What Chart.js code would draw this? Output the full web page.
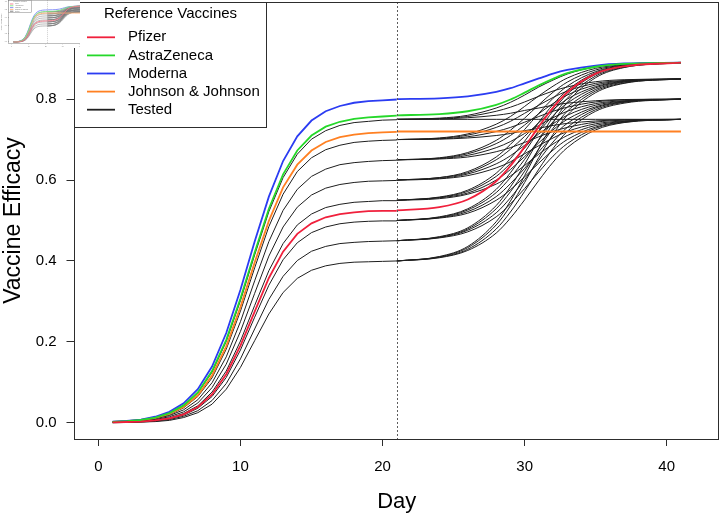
<!DOCTYPE html>
<html>
<head>
<meta charset="utf-8">
<script src="https://cdn.jsdelivr.net/npm/chart.js@4.4.1/dist/chart.umd.min.js"></script>
<style>
  html, body { margin: 0; padding: 0; background: #fff; }
  #wrap { position: relative; width: 720px; height: 513px; }
  #thumb { position: absolute; left: 0; top: 0; width: 80px; height: 48px; overflow: hidden; background: #fff; }
  #thumb canvas { opacity: 0.6; }
</style>
</head>
<body>
<div id="wrap">
  <canvas id="main" width="720" height="513"></canvas>
  <div id="thumb"><canvas id="mini" width="86" height="51"></canvas></div>
</div>
<script>
// ---- data -------------------------------------------------------------
// first dose: days 1..21, second dose: days 21..41 (sampled)
const days1 = [1,2,3,4,5,6,7,8,9,10,11,12,13,14,15,16,17,18,19,20,21];
const days2 = [21,24,26,28,29,30,31,32,33,35,37,41];
const doseDay = 21;

const dayTicks = [0, 10, 20, 30, 40];
const effTicks = [0, 0.2, 0.4, 0.6, 0.8, 1.0];

const pfizer1  = [0.001,0.002,0.003,0.006,0.011,0.021,0.039,0.070,0.120,0.191,0.275,0.358,0.423,0.467,0.493,0.508,0.516,0.520,0.523,0.524,0.524];
const astra1   = [0.002,0.004,0.007,0.013,0.024,0.043,0.075,0.128,0.205,0.307,0.421,0.529,0.614,0.673,0.710,0.732,0.744,0.751,0.755,0.757,0.759];
const moderna1 = [0.003,0.005,0.008,0.015,0.027,0.048,0.083,0.139,0.222,0.329,0.448,0.559,0.647,0.708,0.747,0.770,0.783,0.791,0.795,0.797,0.799];
const jj1      = [0.002,0.004,0.007,0.012,0.022,0.039,0.068,0.117,0.189,0.286,0.396,0.499,0.582,0.638,0.673,0.694,0.706,0.712,0.716,0.718,0.719];

const pfizer2  = [0.525,0.533,0.552,0.597,0.635,0.682,0.732,0.779,0.817,0.863,0.881,0.890];
const astra2   = [0.760,0.763,0.770,0.786,0.799,0.816,0.834,0.850,0.864,0.880,0.887,0.890];
const moderna2 = [0.800,0.802,0.807,0.818,0.827,0.839,0.851,0.863,0.872,0.883,0.888,0.890];
const jj2      = [0.720,0.720,0.720,0.720,0.720,0.720,0.720,0.720,0.720,0.720,0.720,0.720];

// tested candidates, first dose (plateaus 0.40 .. 0.75)
const tested1 = [
  [0.000,0.001,0.002,0.003,0.006,0.013,0.025,0.046,0.083,0.137,0.203,0.269,0.322,0.357,0.377,0.388,0.394,0.397,0.398,0.399,0.400],
  [0.001,0.001,0.002,0.004,0.008,0.016,0.030,0.055,0.097,0.158,0.232,0.305,0.362,0.401,0.424,0.436,0.443,0.446,0.448,0.449,0.450],
  [0.001,0.001,0.003,0.005,0.010,0.019,0.036,0.065,0.112,0.180,0.261,0.340,0.403,0.445,0.470,0.484,0.492,0.496,0.498,0.499,0.499],
  [0.001,0.002,0.004,0.007,0.012,0.023,0.042,0.076,0.128,0.202,0.290,0.376,0.443,0.489,0.516,0.532,0.540,0.545,0.547,0.549,0.549],
  [0.001,0.002,0.004,0.008,0.015,0.027,0.049,0.087,0.145,0.226,0.320,0.412,0.484,0.533,0.563,0.580,0.589,0.594,0.597,0.598,0.599],
  [0.002,0.003,0.005,0.010,0.018,0.032,0.057,0.099,0.163,0.250,0.351,0.448,0.525,0.577,0.609,0.627,0.638,0.643,0.646,0.648,0.649],
  [0.002,0.003,0.006,0.011,0.020,0.037,0.065,0.111,0.182,0.276,0.383,0.485,0.565,0.621,0.655,0.675,0.686,0.693,0.696,0.698,0.699],
  [0.002,0.004,0.007,0.013,0.024,0.042,0.074,0.125,0.201,0.302,0.415,0.522,0.606,0.664,0.701,0.722,0.735,0.742,0.745,0.748,0.749]
];

// tested candidates, second dose: each first-dose level to 0.75 / 0.80 / 0.85 / 0.89
const tested2 = [
  [0.400,0.408,0.426,0.469,0.506,0.551,0.599,0.644,0.680,0.724,0.742,0.750],
  [0.400,0.409,0.429,0.479,0.521,0.572,0.627,0.678,0.720,0.770,0.790,0.800],
  [0.400,0.410,0.433,0.489,0.536,0.594,0.656,0.713,0.760,0.816,0.839,0.850],
  [0.400,0.411,0.436,0.497,0.548,0.611,0.678,0.741,0.792,0.853,0.878,0.890],
  [0.450,0.457,0.472,0.509,0.541,0.579,0.620,0.659,0.690,0.728,0.743,0.750],
  [0.450,0.458,0.476,0.519,0.556,0.601,0.649,0.694,0.730,0.774,0.792,0.800],
  [0.450,0.459,0.479,0.529,0.571,0.622,0.677,0.728,0.770,0.820,0.840,0.850],
  [0.450,0.460,0.482,0.537,0.583,0.639,0.700,0.756,0.802,0.857,0.879,0.890],
  [0.500,0.506,0.518,0.550,0.576,0.608,0.642,0.674,0.700,0.731,0.744,0.750],
  [0.500,0.507,0.522,0.559,0.591,0.629,0.670,0.709,0.740,0.778,0.793,0.800],
  [0.500,0.508,0.526,0.569,0.606,0.651,0.699,0.744,0.780,0.824,0.842,0.850],
  [0.500,0.509,0.529,0.577,0.618,0.668,0.722,0.771,0.812,0.861,0.881,0.890],
  [0.550,0.554,0.565,0.590,0.610,0.636,0.664,0.689,0.710,0.735,0.745,0.750],
  [0.550,0.556,0.568,0.600,0.626,0.658,0.692,0.724,0.750,0.781,0.794,0.800],
  [0.550,0.557,0.572,0.609,0.641,0.679,0.720,0.759,0.790,0.828,0.843,0.850],
  [0.550,0.558,0.575,0.617,0.653,0.696,0.743,0.787,0.822,0.865,0.882,0.890],
  [0.600,0.603,0.611,0.630,0.645,0.665,0.685,0.704,0.720,0.739,0.746,0.750],
  [0.600,0.604,0.615,0.640,0.660,0.686,0.714,0.739,0.760,0.785,0.795,0.800],
  [0.600,0.606,0.618,0.650,0.676,0.708,0.742,0.774,0.800,0.831,0.844,0.850],
  [0.600,0.606,0.621,0.657,0.688,0.725,0.765,0.802,0.832,0.868,0.883,0.890],
  [0.650,0.652,0.657,0.670,0.680,0.693,0.707,0.720,0.730,0.743,0.748,0.750],
  [0.650,0.653,0.661,0.680,0.695,0.715,0.735,0.754,0.770,0.789,0.796,0.800],
  [0.650,0.654,0.665,0.690,0.710,0.736,0.764,0.789,0.810,0.835,0.845,0.850],
  [0.650,0.655,0.668,0.698,0.723,0.753,0.786,0.817,0.842,0.872,0.884,0.890],
  [0.700,0.701,0.704,0.710,0.715,0.722,0.728,0.735,0.740,0.746,0.749,0.750],
  [0.700,0.702,0.707,0.720,0.730,0.743,0.757,0.770,0.780,0.793,0.798,0.800],
  [0.700,0.703,0.711,0.730,0.745,0.765,0.785,0.804,0.820,0.839,0.846,0.850],
  [0.700,0.704,0.714,0.738,0.757,0.782,0.808,0.832,0.852,0.876,0.885,0.890],
  [0.750,0.750,0.750,0.750,0.750,0.750,0.750,0.750,0.750,0.750,0.750,0.750],
  [0.750,0.751,0.754,0.760,0.765,0.772,0.778,0.785,0.790,0.796,0.799,0.800],
  [0.750,0.752,0.757,0.770,0.780,0.793,0.807,0.820,0.830,0.843,0.848,0.850],
  [0.750,0.753,0.760,0.778,0.792,0.810,0.830,0.847,0.862,0.880,0.887,0.890]
];

const legendNames  = ['Pfizer', 'AstraZeneca', 'Moderna', 'Johnson & Johnson', 'Tested'];
const legendColors = ['#f0203c', '#25d82a', '#2b3cf2', '#ff8022', '#1e1e1e'];

// ---- drawing ----------------------------------------------------------
const family = "'Liberation Sans', Arial, Helvetica, sans-serif";
const ink = '#2d2d2d';

function toPoints(xs, ys) {
  return ys.map((y, i) => ({ x: xs[i], y: y }));
}

function makeDatasets(lw) {
  const sets = [];
  const refs = [
    [pfizer1, pfizer2, legendColors[0]],
    [astra1, astra2, legendColors[1]],
    [moderna1, moderna2, legendColors[2]],
    [jj1, jj2, legendColors[3]]
  ];
  // reference vaccines first -> painted on top
  refs.forEach(([a, b, c]) => {
    sets.push({ data: toPoints(days1, a), borderColor: c, borderWidth: 1.8 * lw });
    sets.push({ data: toPoints(days2, b), borderColor: c, borderWidth: 1.8 * lw, cubicInterpolationMode: 'monotone' });
  });
  tested2.forEach(b => sets.push({ data: toPoints(days2, b), borderColor: legendColors[4], borderWidth: lw, cubicInterpolationMode: 'monotone' }));
  tested1.forEach(a => sets.push({ data: toPoints(days1, a), borderColor: legendColors[4], borderWidth: lw }));
  return sets;
}

// dotted line at the second dose, plot frame, legend
const framePlugin = {
  id: 'frame',
  afterDatasetsDraw(chart, args, o) {
    const { ctx, chartArea: a, scales } = chart;
    const x = Math.round(scales.x.getPixelForValue(doseDay)) + 0.5;
    ctx.save();
    ctx.strokeStyle = '#5c5c5c';
    ctx.lineWidth = o.lw;
    ctx.setLineDash([2 * o.lw, 2 * o.lw]);
    ctx.beginPath();
    ctx.moveTo(x, a.top);
    ctx.lineTo(x, a.bottom);
    ctx.stroke();
    ctx.restore();
  },
  afterDraw(chart, args, o) {
    const { ctx, chartArea: a } = chart;
    const sx = o.sx, sy = o.sy;
    ctx.save();
    ctx.strokeStyle = ink;
    ctx.lineWidth = o.lw;
    ctx.strokeRect(Math.floor(a.left) + 0.5, Math.floor(a.top) + 0.5,
                   Math.round(a.right - a.left) - 1, Math.round(a.bottom - a.top));

    // legend box (top left of the plot)
    const x0 = Math.floor(a.left) + 0.5, y0 = Math.floor(a.top) + 0.5;
    const w = Math.round(192 * sx), h = Math.round(124.5 * sy);
    ctx.fillStyle = '#fff';
    ctx.fillRect(x0, y0, w, h);
    ctx.strokeRect(x0, y0, w, h);

    ctx.fillStyle = '#000';
    ctx.textBaseline = 'middle';
    ctx.font = (15 * sy) + 'px ' + family;
    ctx.textAlign = 'center';
    ctx.fillText('Reference Vaccines', x0 + 96 * sx, y0 + 11.5 * sy);
    ctx.textAlign = 'left';
    legendNames.forEach((name, i) => {
      const y = y0 + (34.8 + i * 18.1) * sy;
      ctx.strokeStyle = legendColors[i];
      ctx.lineWidth = 1.8 * o.lw;
      ctx.beginPath();
      ctx.moveTo(x0 + 12.5 * sx, y);
      ctx.lineTo(x0 + 40.5 * sx, y);
      ctx.stroke();
      ctx.fillText(name, x0 + 53.5 * sx, y);
    });
    ctx.restore();
  }
};

function makeChart(canvas, sx, sy, lw) {
  return new Chart(canvas, {
    type: 'line',
    data: { datasets: makeDatasets(lw) },
    options: {
      responsive: false,
      animation: false,
      devicePixelRatio: 1,
      events: [],
      layout: { padding: { left: 0, right: 1 * sx, top: 2 * sy, bottom: 0 } },
      elements: { point: { radius: 0 }, line: { fill: false, tension: 0 } },
      plugins: {
        legend: { display: false },
        tooltip: { enabled: false },
        frame: { sx: sx, sy: sy, lw: lw }
      },
      scales: {
        x: {
          type: 'linear',
          min: -1.68,
          max: 43.68,
          afterBuildTicks: s => { s.ticks = dayTicks.map(v => ({ value: v })); },
          afterFit: s => { s.height = 74 * sy; s.paddingLeft = 0; s.paddingRight = 0; },
          grid: { drawOnChartArea: false, drawTicks: true, tickLength: 7 * sy, color: ink, lineWidth: lw },
          border: { display: false },
          ticks: {
            color: '#000', font: { family: family, size: 15 * sy }, padding: 12 * sy,
            maxRotation: 0, autoSkip: false, callback: v => String(v)
          },
          title: {
            display: true, text: 'Day', color: '#000',
            font: { family: family, size: 22 * sy, lineHeight: 1 }, padding: { top: 0, bottom: 0 }
          }
        },
        y: {
          type: 'linear',
          min: -0.04,
          max: 1.04,
          afterBuildTicks: s => { s.ticks = effTicks.map(v => ({ value: v })); },
          afterFit: s => { s.width = 74.5 * sx; s.paddingTop = 0; s.paddingBottom = 0; },
          grid: { drawOnChartArea: false, drawTicks: true, tickLength: 8 * sx, color: ink, lineWidth: lw },
          border: { display: false },
          ticks: {
            color: '#000', font: { family: family, size: 15 * sy }, padding: 9.8 * sx,
            autoSkip: false, callback: v => Number(v).toFixed(1)
          },
          title: {
            display: true, text: 'Vaccine Efficacy', color: '#000',
            font: { family: family, size: 23 * sy, lineHeight: 1 }, padding: { top: 2 * sx, bottom: 0 }
          }
        }
      }
    },
    plugins: [framePlugin]
  });
}

makeChart(document.getElementById('main'), 1, 1, 1);
// small copy of the figure pasted in the top left corner
makeChart(document.getElementById('mini'), 0.12, 0.1, 0.5);
</script>
</body>
</html>
